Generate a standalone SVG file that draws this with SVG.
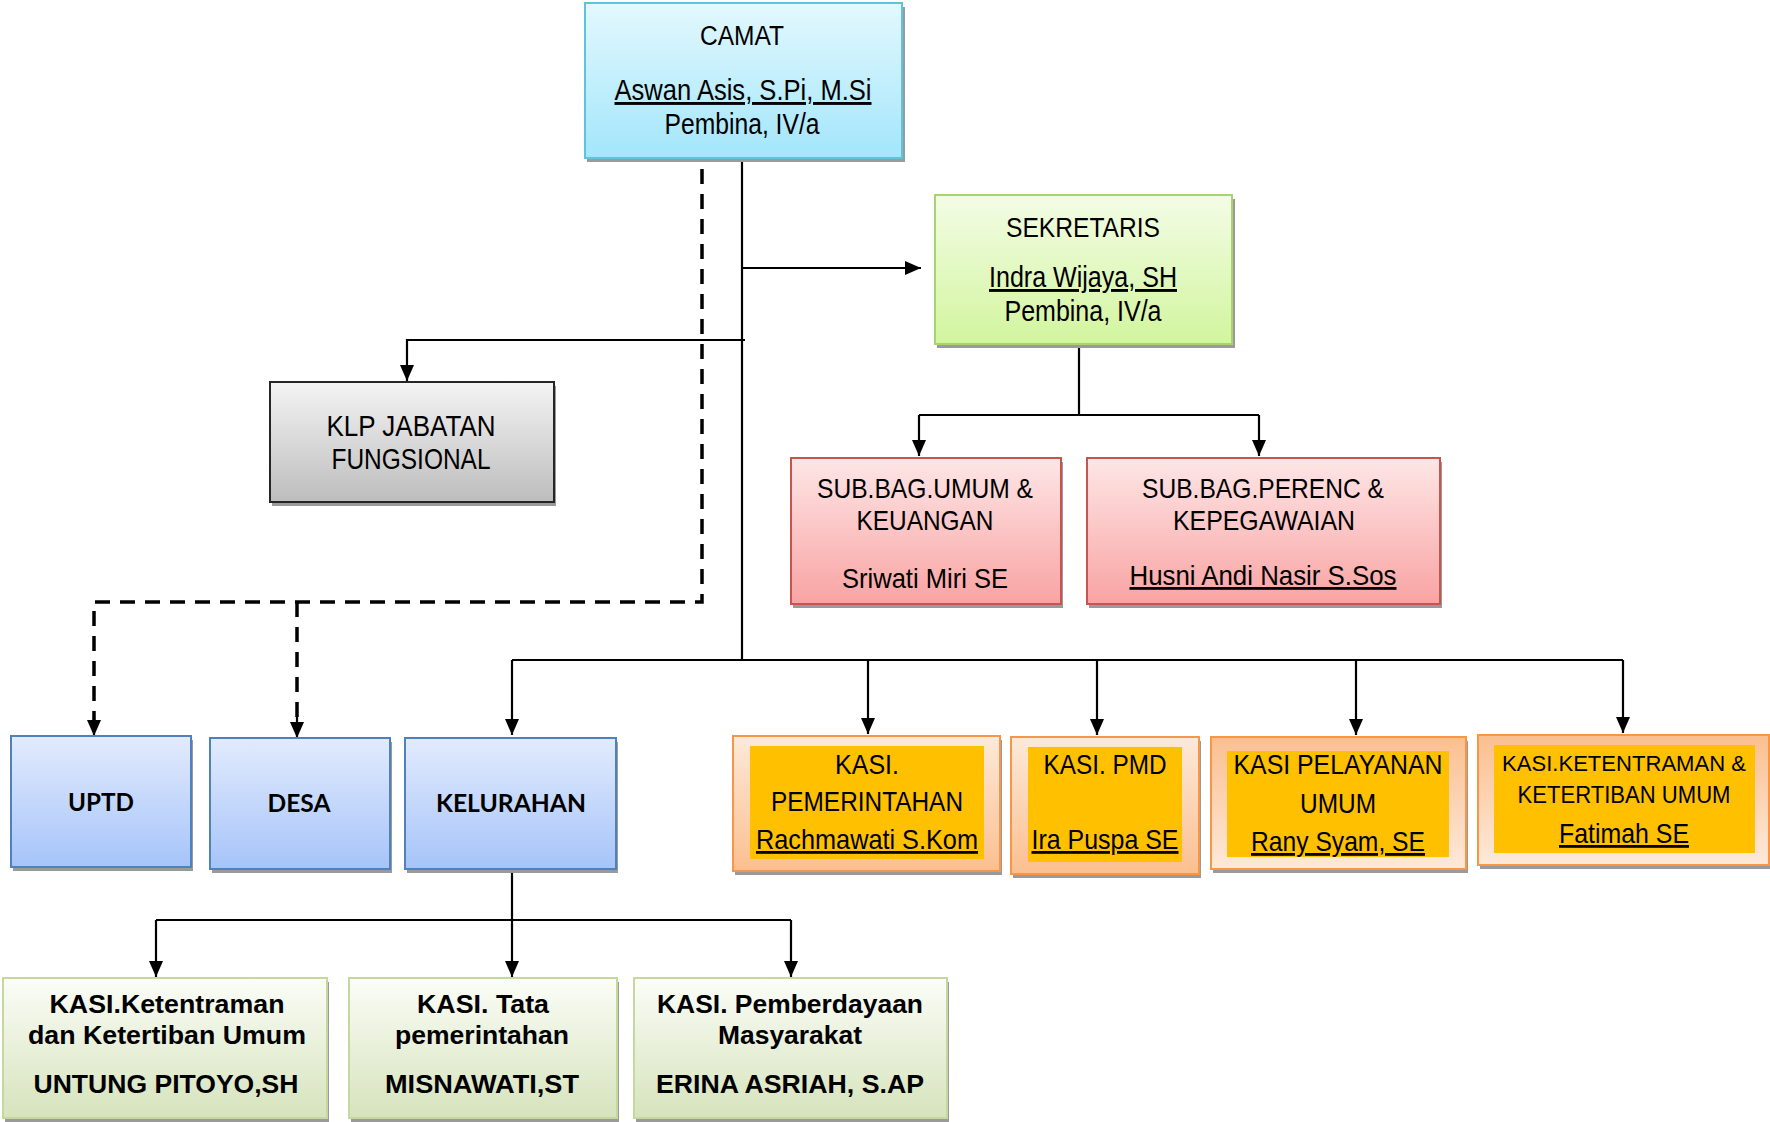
<svg xmlns="http://www.w3.org/2000/svg" width="1770" height="1122" viewBox="0 0 1770 1122">
<defs>
<linearGradient id="gCyan" x1="0" y1="0" x2="0" y2="1"><stop offset="0" stop-color="#e3f8fe"/><stop offset="1" stop-color="#a3e6fb"/></linearGradient>
<linearGradient id="gGreen" x1="0" y1="0" x2="0" y2="1"><stop offset="0" stop-color="#f3fce6"/><stop offset="1" stop-color="#d2f59e"/></linearGradient>
<linearGradient id="gGray" x1="0" y1="0" x2="0" y2="1"><stop offset="0" stop-color="#f4f4f4"/><stop offset="1" stop-color="#bdbdbd"/></linearGradient>
<linearGradient id="gRed" x1="0" y1="0" x2="0" y2="1"><stop offset="0" stop-color="#fee6e6"/><stop offset="1" stop-color="#f9a3a3"/></linearGradient>
<linearGradient id="gBlue" x1="0" y1="0" x2="0" y2="1"><stop offset="0" stop-color="#e2ebfd"/><stop offset="1" stop-color="#a6c4f9"/></linearGradient>
<linearGradient id="gOliv" x1="0" y1="0" x2="0" y2="1"><stop offset="0" stop-color="#fbfdf7"/><stop offset="1" stop-color="#d6e3bc"/></linearGradient>
<linearGradient id="gOrA" x1="0" y1="0" x2="0" y2="1"><stop offset="0" stop-color="#fde9d9"/><stop offset="1" stop-color="#fbbf8f"/></linearGradient>
<linearGradient id="gOrB" x1="0" y1="0" x2="0" y2="1"><stop offset="0" stop-color="#fbbf8f"/><stop offset="1" stop-color="#fde9d9"/></linearGradient>
<marker id="arr" markerUnits="userSpaceOnUse" markerWidth="16" markerHeight="16" viewBox="0 0 16 14" refX="16" refY="7" orient="auto"><path d="M0,0 L16,7 L0,14 z" fill="#000"/></marker>
</defs>
<style>
.sh{fill:#9a9a9a}
.n{font-family:"Liberation Sans",Arial,sans-serif;font-size:29px;fill:#000;text-anchor:middle}
.t{font-family:"Liberation Sans",Arial,sans-serif;font-size:27px;fill:#000;text-anchor:middle}
.k{font-family:"Liberation Sans",Arial,sans-serif;font-size:28px;fill:#000;text-anchor:middle}
.s{font-family:"Liberation Sans",Arial,sans-serif;font-size:24px;fill:#000;text-anchor:middle}
.b{font-family:Lato,"Liberation Sans",sans-serif;font-weight:bold;font-size:25px;fill:#000;text-anchor:middle}
.bb{font-family:"Liberation Sans",Arial,sans-serif;font-weight:bold;font-size:25px;fill:#000;text-anchor:middle}
.u{text-decoration:underline}
.ln{fill:none;stroke:#000;stroke-width:2.2}
.ar{marker-end:url(#arr)}
.ds{fill:none;stroke:#000;stroke-width:3.5;stroke-dasharray:15,10}
</style>

<g id="connectors">
<path class="ln" d="M742,158 V660"/>
<path class="ln ar" d="M742,268 H921"/>
<path class="ln ar" d="M745,340 H407 V381"/>
<path class="ln" d="M1079,344 V415"/>
<path class="ln" d="M919,415 H1259"/>
<path class="ln ar" d="M919,415 V456"/>
<path class="ln ar" d="M1259,415 V456"/>
<path class="ln" d="M512,660 H1623"/>
<path class="ln ar" d="M512,660 V735"/>
<path class="ln ar" d="M868,660 V734"/>
<path class="ln ar" d="M1097,660 V735"/>
<path class="ln ar" d="M1356,660 V735"/>
<path class="ln ar" d="M1623,660 V733"/>
<path class="ds" d="M702,169 V602 H94 V720"/>
<path class="ds" d="M297,602 V720"/>
<path class="ln ar" d="M94,716 V736"/>
<path class="ln ar" d="M297,716 V738"/>
<path class="ln ar" d="M512,869 V977"/>
<path class="ln" d="M156,920 H791"/>
<path class="ln ar" d="M156,920 V977"/>
<path class="ln ar" d="M791,920 V977"/>
</g>

<g id="camat">
<rect class="sh" x="587" y="7" width="318" height="155"/>
<rect x="585" y="3" width="317" height="155" fill="url(#gCyan)" stroke="#5fc3dd" stroke-width="2"/>
<text class="t" x="742" y="45" textLength="84" lengthAdjust="spacingAndGlyphs">CAMAT</text>
<text class="n u" x="743" y="100" textLength="257" lengthAdjust="spacingAndGlyphs">Aswan Asis, S.Pi, M.Si</text>
<text class="n" x="742" y="134" textLength="155" lengthAdjust="spacingAndGlyphs">Pembina, IV/a</text>
</g>

<g id="sekretaris">
<rect class="sh" x="937" y="199" width="298" height="149"/>
<rect x="935" y="195" width="297" height="149" fill="url(#gGreen)" stroke="#a8d46f" stroke-width="2"/>
<text class="t" x="1083" y="237" textLength="154" lengthAdjust="spacingAndGlyphs">SEKRETARIS</text>
<text class="n u" x="1083" y="287" textLength="188" lengthAdjust="spacingAndGlyphs">Indra Wijaya, SH</text>
<text class="n" x="1083" y="321" textLength="157" lengthAdjust="spacingAndGlyphs">Pembina, IV/a</text>
</g>

<g id="klp">
<rect class="sh" x="272" y="386" width="284" height="120"/>
<rect x="270" y="382" width="284" height="120" fill="url(#gGray)" stroke="#262626" stroke-width="2"/>
<text class="n" x="411" y="436" textLength="169" lengthAdjust="spacingAndGlyphs">KLP JABATAN</text>
<text class="n" x="411" y="469" textLength="159" lengthAdjust="spacingAndGlyphs">FUNGSIONAL</text>
</g>

<g id="subbag-umum">
<rect class="sh" x="793" y="462" width="270" height="146"/>
<rect x="791" y="458" width="270" height="146" fill="url(#gRed)" stroke="#c85450" stroke-width="2"/>
<text class="k" x="925" y="498" textLength="216" lengthAdjust="spacingAndGlyphs">SUB.BAG.UMUM &amp;</text>
<text class="k" x="925" y="530" textLength="137" lengthAdjust="spacingAndGlyphs">KEUANGAN</text>
<text class="k" x="925" y="588" textLength="166" lengthAdjust="spacingAndGlyphs">Sriwati Miri SE</text>
</g>

<g id="subbag-perenc">
<rect class="sh" x="1089" y="462" width="353" height="146"/>
<rect x="1087" y="458" width="353" height="146" fill="url(#gRed)" stroke="#c85450" stroke-width="2"/>
<text class="k" x="1263" y="498" textLength="242" lengthAdjust="spacingAndGlyphs">SUB.BAG.PERENC &amp;</text>
<text class="k" x="1264" y="530" textLength="182" lengthAdjust="spacingAndGlyphs">KEPEGAWAIAN</text>
<text class="k u" x="1263" y="585" textLength="267" lengthAdjust="spacingAndGlyphs">Husni Andi Nasir S.Sos</text>
</g>

<g id="uptd">
<rect class="sh" x="13" y="740" width="180" height="131"/>
<rect x="11" y="736" width="180" height="131" fill="url(#gBlue)" stroke="#4f81bd" stroke-width="2"/>
<text class="b" x="101" y="811" textLength="66" lengthAdjust="spacingAndGlyphs">UPTD</text>
</g>

<g id="desa">
<rect class="sh" x="212" y="742" width="180" height="131"/>
<rect x="210" y="738" width="180" height="131" fill="url(#gBlue)" stroke="#4f81bd" stroke-width="2"/>
<text class="b" x="299" y="812" textLength="63" lengthAdjust="spacingAndGlyphs">DESA</text>
</g>

<g id="kelurahan">
<rect class="sh" x="407" y="742" width="211" height="131"/>
<rect x="405" y="738" width="211" height="131" fill="url(#gBlue)" stroke="#4f81bd" stroke-width="2"/>
<text class="b" x="511" y="812" textLength="150" lengthAdjust="spacingAndGlyphs">KELURAHAN</text>
</g>

<g id="kasi-pemerintahan">
<rect class="sh" x="735" y="740" width="267" height="135"/>
<rect x="733" y="736" width="267" height="135" fill="url(#gOrA)" stroke="#f79646" stroke-width="2"/>
<rect x="750" y="746" width="234" height="113" fill="#ffc000"/>
<text class="k" x="867" y="774" textLength="64" lengthAdjust="spacingAndGlyphs">KASI.</text>
<text class="k" x="867" y="811" textLength="192" lengthAdjust="spacingAndGlyphs">PEMERINTAHAN</text>
<text class="k u" x="867" y="849" textLength="222" lengthAdjust="spacingAndGlyphs">Rachmawati S.Kom</text>
</g>

<g id="kasi-pmd">
<rect class="sh" x="1013" y="741" width="188" height="137"/>
<rect x="1011" y="737" width="188" height="137" fill="url(#gOrA)" stroke="#f79646" stroke-width="2"/>
<rect x="1028" y="747" width="154" height="115" fill="#ffc000"/>
<text class="k" x="1105" y="774" textLength="123" lengthAdjust="spacingAndGlyphs">KASI. PMD</text>
<text class="k u" x="1105" y="849" textLength="147" lengthAdjust="spacingAndGlyphs">Ira Puspa SE</text>
</g>

<g id="kasi-pelayanan">
<rect class="sh" x="1213" y="741" width="255" height="132"/>
<rect x="1211" y="737" width="255" height="132" fill="url(#gOrB)" stroke="#f79646" stroke-width="2"/>
<rect x="1227" y="751" width="222" height="106" fill="#ffc000"/>
<text class="k" x="1338" y="774" textLength="209" lengthAdjust="spacingAndGlyphs">KASI PELAYANAN</text>
<text class="k" x="1338" y="813" textLength="76" lengthAdjust="spacingAndGlyphs">UMUM</text>
<text class="k u" x="1338" y="851" textLength="174" lengthAdjust="spacingAndGlyphs">Rany Syam, SE</text>
</g>

<g id="kasi-ketentraman">
<rect class="sh" x="1480" y="739" width="290" height="130"/>
<rect x="1478" y="735" width="291" height="130" fill="url(#gOrB)" stroke="#f79646" stroke-width="2"/>
<rect x="1494" y="745" width="261" height="108" fill="#ffc000"/>
<text class="s" x="1624" y="771" style="font-size:22px" textLength="244" lengthAdjust="spacingAndGlyphs">KASI.KETENTRAMAN &amp;</text>
<text class="s" x="1624" y="803" textLength="213" lengthAdjust="spacingAndGlyphs">KETERTIBAN UMUM</text>
<text class="k u" x="1624" y="843" textLength="130" lengthAdjust="spacingAndGlyphs">Fatimah SE</text>
</g>

<g id="kasi-ketentraman-kel">
<rect class="sh" x="5" y="982" width="324" height="140"/>
<rect x="3" y="978" width="324" height="140" fill="url(#gOliv)" stroke="#c5d89f" stroke-width="2"/>
<text class="bb" x="167" y="1013" textLength="235" lengthAdjust="spacingAndGlyphs">KASI.Ketentraman</text>
<text class="bb" x="167" y="1044" textLength="278" lengthAdjust="spacingAndGlyphs">dan Ketertiban Umum</text>
<text class="bb" x="166" y="1093" textLength="265" lengthAdjust="spacingAndGlyphs">UNTUNG PITOYO,SH</text>
</g>

<g id="kasi-tata">
<rect class="sh" x="351" y="982" width="268" height="140"/>
<rect x="349" y="978" width="268" height="140" fill="url(#gOliv)" stroke="#c5d89f" stroke-width="2"/>
<text class="bb" x="483" y="1013" textLength="132" lengthAdjust="spacingAndGlyphs">KASI. Tata</text>
<text class="bb" x="482" y="1044" textLength="174" lengthAdjust="spacingAndGlyphs">pemerintahan</text>
<text class="bb" x="482" y="1093" textLength="194" lengthAdjust="spacingAndGlyphs">MISNAWATI,ST</text>
</g>

<g id="kasi-pemberdayaan">
<rect class="sh" x="636" y="982" width="313" height="140"/>
<rect x="634" y="978" width="313" height="140" fill="url(#gOliv)" stroke="#c5d89f" stroke-width="2"/>
<text class="bb" x="790" y="1013" textLength="266" lengthAdjust="spacingAndGlyphs">KASI. Pemberdayaan</text>
<text class="bb" x="790" y="1044" textLength="144" lengthAdjust="spacingAndGlyphs">Masyarakat</text>
<text class="bb" x="790" y="1093" textLength="268" lengthAdjust="spacingAndGlyphs">ERINA ASRIAH, S.AP</text>
</g>
</svg>
